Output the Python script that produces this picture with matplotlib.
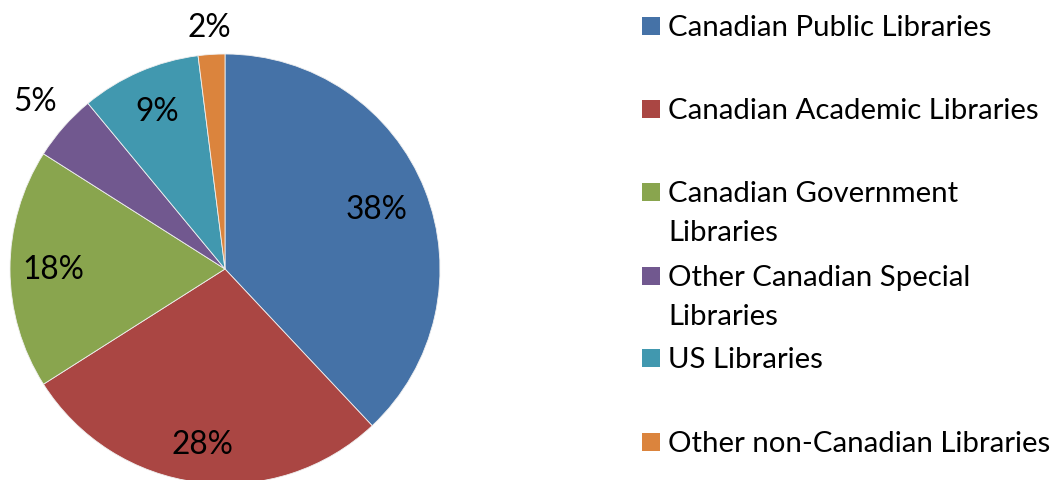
import matplotlib
matplotlib.use("Agg")
import matplotlib.pyplot as plt
from matplotlib.patches import Rectangle
import numpy as np

# ---- data ----
categories = ["Canadian Public Libraries", "Canadian Academic Libraries",
              "Canadian Government Libraries", "Other Canadian Special Libraries",
              "US Libraries", "Other non-Canadian Libraries"]
shares = [38, 28, 18, 5, 9, 2]
pct_labels = ["38%", "28%", "18%", "5%", "9%", "2%"]

# ---- style ----
colors = ["#4572A7", "#AA4643", "#89A54E", "#71588F", "#4198AF", "#DB843D"]
label_radius = [0.76, 0.82, 0.80, 1.18, 0.80, 1.13]
wrapped = [False, False, True, True, False, False]
FONT = "Lato"

W, H = 1050, 481
fig = plt.figure(figsize=(W / 100, H / 100), dpi=100)
fig.patch.set_facecolor("white")

# fit font size so legend line width matches reference (~324 px)
renderer = fig.canvas.get_renderer()
probe = fig.text(0, 0, categories[0], fontsize=20, family=FONT)
w = probe.get_window_extent(renderer).width
probe.remove()
fs = 20 * 324 / w
probe = fig.text(0, 0, "38%", fontsize=20, family=FONT)
w2 = probe.get_window_extent(renderer).width
probe.remove()
fs_pct = 20 * 62 / w2

# pie axes: center (225, 270) px, radius 215 px
cx, cy, R = 225, 270, 215
ax = fig.add_axes([(cx - R) / W, (H - cy - R) / H, 2 * R / W, 2 * R / H])
wedges, _ = ax.pie(shares, colors=colors, startangle=90, counterclock=False,
                   radius=1, wedgeprops=dict(edgecolor="#f0f0f0", linewidth=0.6))
ax.set_xlim(-1, 1)
ax.set_ylim(-1, 1)
ax.set_aspect("equal")
ax.axis("off")

for wdg, lab, r in zip(wedges, pct_labels, label_radius):
    ang = np.deg2rad((wdg.theta1 + wdg.theta2) / 2)
    ax.text(r * np.cos(ang), r * np.sin(ang), lab, ha="center", va="center",
            fontsize=fs_pct, family=FONT, color="black", clip_on=False)

# legend
baselines = [36, 119, 202, 286, 368, 452]
for name, col, b, wr in zip(categories, colors, baselines, wrapped):
    fig.patches.append(Rectangle((642 / W, (H - b) / H), 18 / W, 18 / H,
                                 transform=fig.transFigure, facecolor=col,
                                 edgecolor="none"))
    if wr:
        head, tail = name.rsplit(" ", 1)
        lines = [head, tail]
    else:
        lines = [name]
    for k, ln in enumerate(lines):
        fig.text(668 / W, (H - b - 39 * k) / H, ln, ha="left", va="baseline",
                 fontsize=fs, family=FONT, color="black")

fig.savefig("out.png", dpi=100, facecolor="white")
